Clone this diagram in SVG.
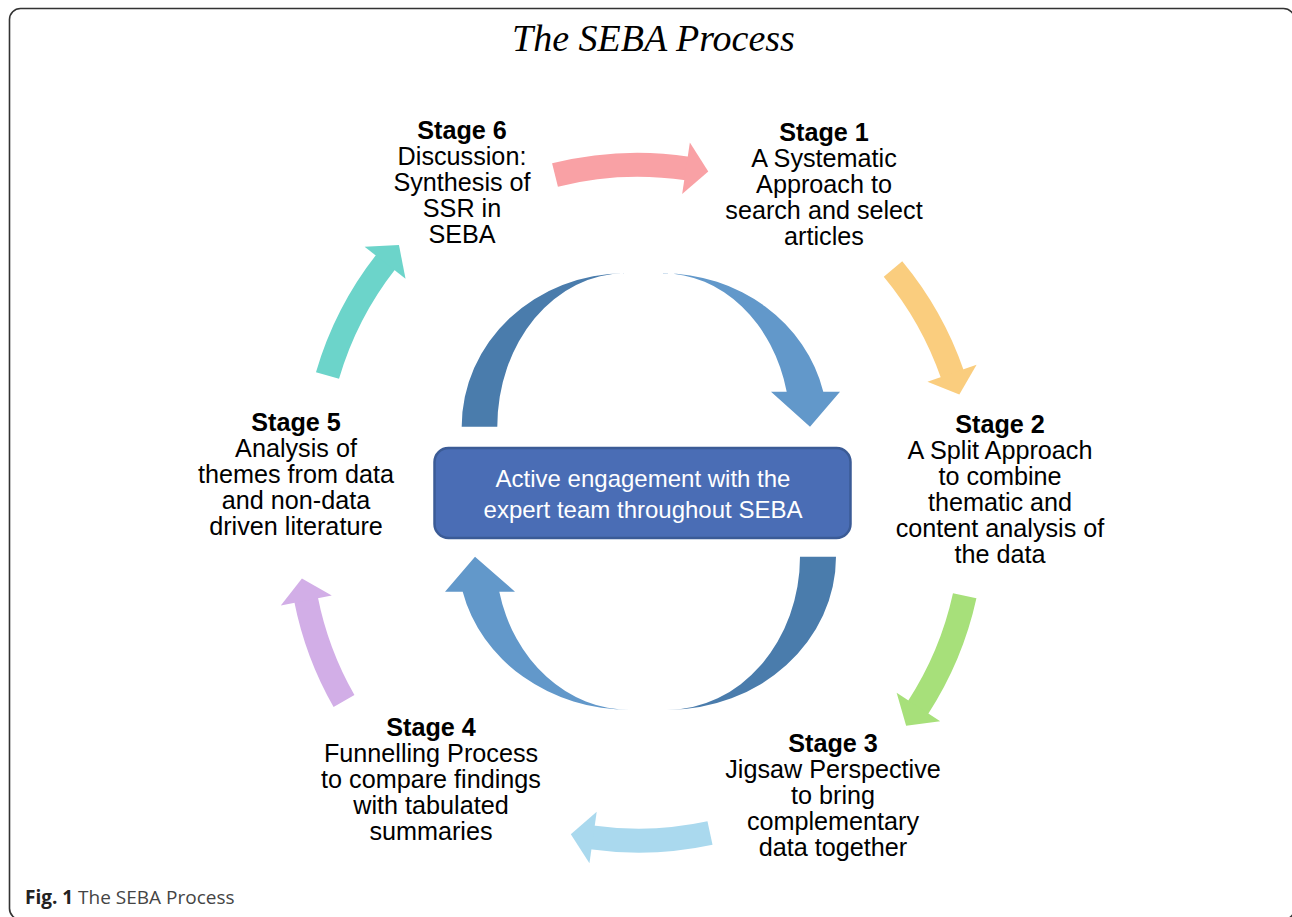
<svg xmlns="http://www.w3.org/2000/svg" width="1292" height="917" viewBox="0 0 1292 917">
<style>
.st{font-family:"Liberation Sans",Arial,sans-serif;font-size:25.2px;fill:#000;text-anchor:middle}
.st .b{font-weight:bold}
.shaft{fill:none;stroke-width:24;stroke-linecap:butt}
.box{font-family:"Liberation Sans",Arial,sans-serif;font-size:24px;fill:#fff;text-anchor:middle}
</style>
<defs>
<marker id="hPink" markerUnits="userSpaceOnUse" markerWidth="26" markerHeight="56" viewBox="-2 -28 26 56" refX="0" refY="0" orient="auto"><path d="M-1.5,-26 L21,0 L-1.5,26 Z" fill="#F9A1A5"/></marker>
<marker id="hYellow" markerUnits="userSpaceOnUse" markerWidth="26" markerHeight="56" viewBox="-2 -28 26 56" refX="0" refY="0" orient="auto"><path d="M-1.5,-26 L21,0 L-1.5,26 Z" fill="#FACD7E"/></marker>
<marker id="hGreen" markerUnits="userSpaceOnUse" markerWidth="26" markerHeight="56" viewBox="-2 -28 26 56" refX="0" refY="0" orient="auto"><path d="M-1.5,-26 L21,0 L-1.5,26 Z" fill="#A7E07A"/></marker>
<marker id="hLBlue" markerUnits="userSpaceOnUse" markerWidth="26" markerHeight="56" viewBox="-2 -28 26 56" refX="0" refY="0" orient="auto"><path d="M-1.5,-26 L21,0 L-1.5,26 Z" fill="#AAD9EE"/></marker>
<marker id="hPurple" markerUnits="userSpaceOnUse" markerWidth="26" markerHeight="56" viewBox="-2 -28 26 56" refX="0" refY="0" orient="auto"><path d="M-1.5,-26 L21,0 L-1.5,26 Z" fill="#D2AEE7"/></marker>
<marker id="hTeal" markerUnits="userSpaceOnUse" markerWidth="26" markerHeight="56" viewBox="-2 -28 26 56" refX="0" refY="0" orient="auto"><path d="M-1.5,-26 L21,0 L-1.5,26 Z" fill="#6CD4CA"/></marker>
</defs>
<rect width="1292" height="917" fill="#fff"/>
<rect x="9.5" y="8.5" width="1285" height="911" rx="11" fill="none" stroke="#333" stroke-width="1.6"/>
<text x="653.5" y="51" font-family="'Liberation Serif','Times New Roman',serif" font-style="italic" font-size="38" text-anchor="middle" fill="#000">The SEBA Process</text>

<g id="connectors">
<path class="shaft" stroke="#F9A1A5" marker-end="url(#hPink)" d="M555,175 A338,338 0 0 1 687.5,168.5"/>
<path class="shaft" stroke="#FACD7E" marker-end="url(#hYellow)" d="M893,269 A338,338 0 0 1 952.5,374.7"/>
<path class="shaft" stroke="#A7E07A" marker-end="url(#hGreen)" d="M964.7,595.8 A338,338 0 0 1 917.6,708.2"/>
<path class="shaft" stroke="#AAD9EE" marker-end="url(#hLBlue)" d="M710,833 A338,338 0 0 1 591.6,837.3"/>
<path class="shaft" stroke="#D2AEE7" marker-end="url(#hPurple)" d="M344,701 A338,338 0 0 1 306,599.1"/>
<path class="shaft" stroke="#6CD4CA" marker-end="url(#hTeal)" d="M327.5,375.5 A338,338 0 0 1 386,261.6"/>
<path fill="#4A7CAC" d="M461.7,426.7 A163.3,153.4 0 0 1 625,273.3 A127.7,153.4 0 0 0 497.3,426.7 Z"/>
<path fill="#6298CA" d="M662.7,273.3 A164.9,153.4 0 0 1 823.3,391.7 L840,391.7 L810,426.7 L771,391.7 L786.7,391.7 A127.3,153.4 0 0 0 662.7,273.3 Z"/>
<path fill="#4A7CAC" d="M836,556.7 A169.3,153.3 0 0 1 666.7,710 A133.3,153.3 0 0 0 800,556.7 Z"/>
<path fill="#6298CA" d="M630,710 A171.8,153.3 0 0 1 462.7,591.7 L445,591.7 L475,556.7 L515,591.7 L499.3,591.7 A134.2,153.3 0 0 0 630,710 Z"/>
</g>

<g id="center">
<rect x="434.5" y="448" width="416" height="90" rx="14" fill="#4A6DB5" stroke="#3B5B96" stroke-width="2.5"/>
<text class="box" x="643" y="487">Active engagement with the</text>
<text class="box" x="643" y="518">expert team throughout SEBA</text>
</g>

<g id="stage6" class="st">
<text class="b" x="462" y="139">Stage 6</text>
<text x="462" y="165">Discussion:</text>
<text x="462" y="191">Synthesis of</text>
<text x="462" y="217">SSR in</text>
<text x="462" y="243">SEBA</text>
</g>
<g id="stage1" class="st">
<text class="b" x="824" y="141">Stage 1</text>
<text x="824" y="167">A Systematic</text>
<text x="824" y="193">Approach to</text>
<text x="824" y="219">search and select</text>
<text x="824" y="245">articles</text>
</g>
<g id="stage2" class="st">
<text class="b" x="1000" y="433">Stage 2</text>
<text x="1000" y="459">A Split Approach</text>
<text x="1000" y="485">to combine</text>
<text x="1000" y="511">thematic and</text>
<text x="1000" y="537">content analysis of</text>
<text x="1000" y="563">the data</text>
</g>
<g id="stage3" class="st">
<text class="b" x="833" y="752">Stage 3</text>
<text x="833" y="778">Jigsaw Perspective</text>
<text x="833" y="804">to bring</text>
<text x="833" y="830">complementary</text>
<text x="833" y="856">data together</text>
</g>
<g id="stage4" class="st">
<text class="b" x="431" y="736">Stage 4</text>
<text x="431" y="762">Funnelling Process</text>
<text x="431" y="788">to compare findings</text>
<text x="431" y="814">with tabulated</text>
<text x="431" y="840">summaries</text>
</g>
<g id="stage5" class="st">
<text class="b" x="296" y="431">Stage 5</text>
<text x="296" y="457">Analysis of</text>
<text x="296" y="483">themes from data</text>
<text x="296" y="509">and non-data</text>
<text x="296" y="535">driven literature</text>
</g>

<text x="25" y="904" font-family="'Open Sans','Noto Sans',sans-serif" font-size="19" fill="#444"><tspan font-weight="bold" fill="#222">Fig. 1</tspan> The SEBA Process</text>
</svg>
